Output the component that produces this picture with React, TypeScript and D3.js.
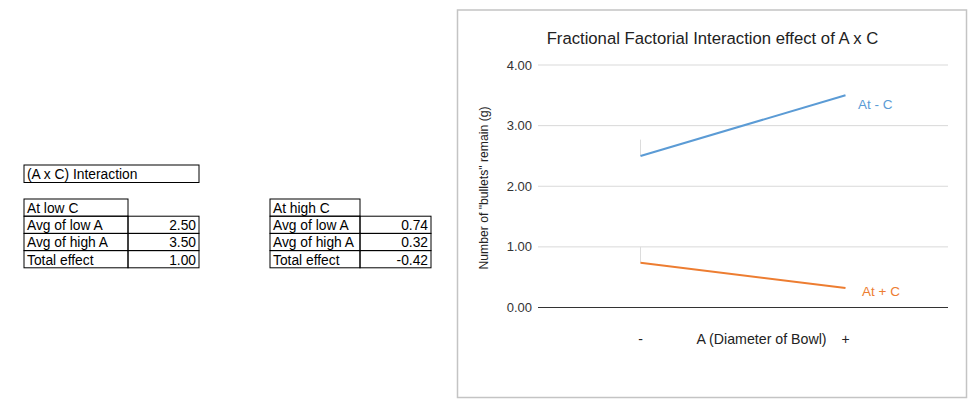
import React from "react";
import * as d3 from "d3";

const categories = ["-", "+"];
const seriesLowC = [2.5, 3.5];
const seriesHighC = [0.74, 0.32];
const seriesNames = ["At - C", "At + C"];
const yTicks = [0, 1, 2, 3, 4];

const tableTitle = "(A x C) Interaction";
const rowLabels = ["Avg of low A", "Avg of high A", "Total effect"];
const lowCHeader = "At low C";
const lowCValues = ["2.50", "3.50", "1.00"];
const highCHeader = "At high C";
const highCValues = ["0.74", "0.32", "-0.42"];

const chartTitle = "Fractional Factorial Interaction effect of A x C";
const xTitle = "A (Diameter of Bowl)";
const yTitle = 'Number of "bullets" remain (g)';

const BLUE = "#5b9bd5";
const ORANGE = "#ed7d31";
const FONT = "'Liberation Sans', Arial, sans-serif";

function Table({ x, header, values, colW1, colW2 }: any) {
  const top = 199;
  const rh = 17.2;
  const w = colW1 + colW2;
  return (
    <g fontFamily={FONT} fontSize={13.8} fill="#000">
      <rect x={x} y={top} width={colW1} height={rh} fill="none" stroke="#000" strokeWidth={1} />
      <text x={x + 3} y={top + 14}>{header}</text>
      {rowLabels.map((lab, i) => {
        const y = top + rh * (i + 1);
        return (
          <g key={lab}>
            <rect x={x} y={y} width={colW1} height={rh} fill="none" stroke="#000" strokeWidth={1} />
            <rect x={x + colW1} y={y} width={colW2} height={rh} fill="none" stroke="#000" strokeWidth={1} />
            <text x={x + 3} y={y + 14}>{lab}</text>
            <text x={x + w - 3} y={y + 14} textAnchor="end">{values[i]}</text>
          </g>
        );
      })}
    </g>
  );
}

export default function App() {
  const W = 980, H = 405;
  const plotL = 538, plotR = 948;
  const x = d3.scaleBand<string>().domain(categories).range([plotL, plotR]).padding(0);
  const y = d3.scaleLinear().domain([0, 4]).range([307.5, 65]);
  const cx = (c: string) => (x(c) as number) + x.bandwidth() / 2;
  const line = d3
    .line<number>()
    .x((_, i) => cx(categories[i]))
    .y((v) => y(v));

  return (
    <svg width={W} height={H} style={{ position: "absolute", left: 0, top: 0, background: "#fff" }}>
      {/* tables */}
      <g fontFamily={FONT} fontSize={13.8}>
        <rect x={24} y={165} width={175} height={17.5} fill="none" stroke="#000" strokeWidth={1} />
        <text x={27} y={179}>{tableTitle}</text>
      </g>
      <Table x={24} header={lowCHeader} values={lowCValues} colW1={104} colW2={71} />
      <Table x={270} header={highCHeader} values={highCValues} colW1={90} colW2={71} />

      {/* chart frame */}
      <rect x={457.5} y={10} width={509} height={387.5} fill="#fff" stroke="#c4c4c4" strokeWidth={1.5} />
      <text x={712.5} y={44} textAnchor="middle" fontFamily={FONT} fontSize={16.7} fill="#222">
        {chartTitle}
      </text>

      {/* gridlines */}
      {yTicks.map((t) => (
        <g key={t}>
          {t !== 0 && (
            <line x1={plotL} x2={plotR} y1={y(t)} y2={y(t)} stroke="#d9d9d9" strokeWidth={1} />
          )}
          <text x={532} y={y(t)} dy="0.35em" textAnchor="end" fontFamily={FONT} fontSize={13} fill="#333">
            {t.toFixed(2)}
          </text>
        </g>
      ))}
      <line x1={plotL} x2={plotR} y1={y(0)} y2={y(0)} stroke="#333" strokeWidth={1} />

      {/* faint drop ticks */}
      <line x1={cx(categories[0])} x2={cx(categories[0])} y1={y(3) + 14} y2={y(seriesLowC[0])} stroke="#dcdcdc" strokeWidth={1} />
      <line x1={cx(categories[0])} x2={cx(categories[0])} y1={y(1)} y2={y(seriesHighC[0])} stroke="#dcdcdc" strokeWidth={1} />

      {/* series */}
      <path d={line(seriesLowC) || ""} fill="none" stroke={BLUE} strokeWidth={2} />
      <path d={line(seriesHighC) || ""} fill="none" stroke={ORANGE} strokeWidth={2} />
      <text x={cx(categories[1]) + 12.5} y={y(seriesLowC[1]) + 14} fontFamily={FONT} fontSize={13.5} fill={BLUE}>
        {seriesNames[0]}
      </text>
      <text x={cx(categories[1]) + 16.5} y={y(seriesHighC[1]) + 7.5} fontFamily={FONT} fontSize={13.5} fill={ORANGE}>
        {seriesNames[1]}
      </text>

      {/* x axis labels */}
      {categories.map((c) => (
        <text key={c} x={cx(c)} y={344} textAnchor="middle" fontFamily={FONT} fontSize={14} fill="#222">
          {c}
        </text>
      ))}
      <text x={761.5} y={344} textAnchor="middle" fontFamily={FONT} fontSize={14.2} fill="#222">
        {xTitle}
      </text>

      {/* y title */}
      <text
        transform={`translate(488,188) rotate(-90)`}
        textAnchor="middle"
        fontFamily={FONT}
        fontSize={12.2}
        fill="#222"
      >
        {yTitle}
      </text>
    </svg>
  );
}
